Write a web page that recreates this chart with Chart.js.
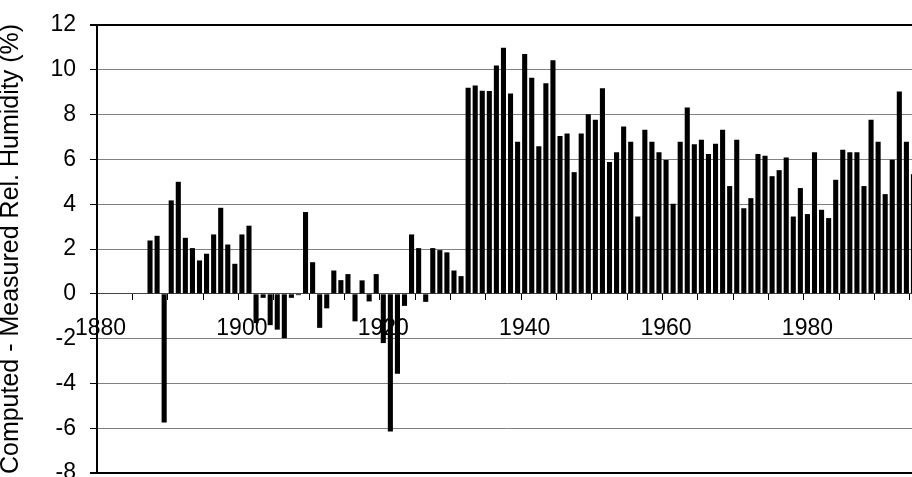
<!DOCTYPE html>
<html>
<head>
<meta charset="utf-8">
<script src="https://cdn.jsdelivr.net/npm/chart.js@4.4.0/dist/chart.umd.min.js"></script>
<style>
  html, body { margin: 0; padding: 0; background: #fff; overflow: hidden; }
  canvas { display: block; }
</style>
</head>
<body>
<canvas id="chart" width="918" height="477"></canvas>
<script>
// categories: one bar per year
const years = [
  1880, 1881, 1882, 1883, 1884, 1885, 1886, 1887, 1888, 1889,
  1890, 1891, 1892, 1893, 1894, 1895, 1896, 1897, 1898, 1899,
  1900, 1901, 1902, 1903, 1904, 1905, 1906, 1907, 1908, 1909,
  1910, 1911, 1912, 1913, 1914, 1915, 1916, 1917, 1918, 1919,
  1920, 1921, 1922, 1923, 1924, 1925, 1926, 1927, 1928, 1929,
  1930, 1931, 1932, 1933, 1934, 1935, 1936, 1937, 1938, 1939,
  1940, 1941, 1942, 1943, 1944, 1945, 1946, 1947, 1948, 1949,
  1950, 1951, 1952, 1953, 1954, 1955, 1956, 1957, 1958, 1959,
  1960, 1961, 1962, 1963, 1964, 1965, 1966, 1967, 1968, 1969,
  1970, 1971, 1972, 1973, 1974, 1975, 1976, 1977, 1978, 1979,
  1980, 1981, 1982, 1983, 1984, 1985, 1986, 1987, 1988, 1989,
  1990, 1991, 1992, 1993, 1994, 1995
];

// computed minus measured relative humidity (%)
const humidityDiff = [
  null, null, null, null, null, null, null, 2.38, 2.59, -5.74,
  4.17, 5.0, 2.5, 2.04, 1.49, 1.79, 2.65, 3.84, 2.2, 1.34,
  2.65, 3.04, -1.31, -0.18, -1.4, -1.6, -1.98, -0.18, -0.06, 3.65,
  1.41, -1.52, -0.65, 1.04, 0.61, 0.88, -1.23, 0.6, -0.34, 0.88,
  -2.2, -6.15, -3.57, -0.54, 2.65, 2.04, -0.36, 2.04, 1.95, 1.85,
  1.04, 0.79, 9.2, 9.3, 9.06, 9.05, 10.19, 10.98, 8.94, 6.79,
  10.71, 9.64, 6.59, 9.4, 10.43, 7.04, 7.16, 5.43, 7.16, 8.02,
  7.77, 9.18, 5.88, 6.32, 7.47, 6.79, 3.45, 7.32, 6.79, 6.32,
  5.97, 4.02, 6.79, 8.32, 6.68, 6.88, 6.24, 6.7, 7.32, 4.81,
  6.88, 3.82, 4.27, 6.24, 6.16, 5.25, 5.52, 6.09, 3.45, 4.72,
  3.56, 6.32, 3.75, 3.38, 5.09, 6.43, 6.32, 6.32, 4.81, 7.77,
  6.79, 4.45, 5.98, 9.03, 6.79, 5.34
];

// years that get a label on the x axis
const labelledYears = [1880, 1900, 1920, 1940, 1960, 1980];

// y axis range
const yMin = -8;
const yMax = 12;
const yStep = 2;

const fontFamily = '"Liberation Sans", Arial, sans-serif';

const ctx = document.getElementById('chart').getContext('2d');

new Chart(ctx, {
    type: 'bar',
    data: {
        labels: years,
        datasets: [{
            data: humidityDiff,
            backgroundColor: '#000',
            borderWidth: 0,
            barPercentage: 0.72,
            categoryPercentage: 1
        }]
    },
    options: {
        responsive: false,
        animation: false,
        events: [],
        layout: {
            padding: { top: 25, bottom: 4, left: 0, right: 1 }
        },
        plugins: {
            legend: { display: false },
            tooltip: { enabled: false }
        },
        scales: {
            x: {
                position: { y: 0 }, // axis crosses at zero
                offset: true,
                grid: {
                    offset: true,
                    drawOnChartArea: false,
                    tickLength: 6,
                    // small tick every 5 years
                    color: c => (c.index !== undefined && c.index % 5 === 0) ? '#000' : 'rgba(0,0,0,0)',
                    tickColor: c => (c.index !== undefined && c.index % 5 === 0) ? '#000' : 'rgba(0,0,0,0)'
                },
                border: { display: true, color: '#444', width: 1 },
                ticks: {
                    autoSkip: false,
                    maxRotation: 0,
                    minRotation: 0,
                    padding: 15,
                    color: '#000',
                    font: { family: fontFamily, size: 23 },
                    callback: function (value, index) {
                        const yr = years[index];
                        return labelledYears.includes(yr) ? String(yr) : '';
                    }
                },
                afterFit: s => {
                    s.paddingLeft = 0;
                    s.paddingRight = 0;
                }
            },
            y: {
                min: yMin,
                max: yMax,
                ticks: {
                    stepSize: yStep,
                    padding: 14,
                    color: '#000',
                    font: { family: fontFamily, size: 23 }
                },
                grid: {
                    // top and bottom lines act as the frame
                    color: c => (c.tick && (c.tick.value === yMax || c.tick.value === yMin)) ? '#000' : '#808080',
                    lineWidth: c => (c.tick && (c.tick.value === yMax || c.tick.value === yMin)) ? 2 : 1,
                    tickLength: 7,
                    tickColor: '#000'
                },
                border: { display: true, color: '#000', width: 2 },
                title: {
                    display: true,
                    text: 'Computed - Measured Rel. Humidity (%)',
                    color: '#000',
                    font: { family: fontFamily, size: 25, lineHeight: 1 },
                    padding: { top: -1, bottom: 0 }
                },
                afterFit: s => {
                    s.width = 97;
                    s.paddingTop = 0;
                    s.paddingBottom = 0;
                }
            }
        }
    }
});
</script>
</body>
</html>
